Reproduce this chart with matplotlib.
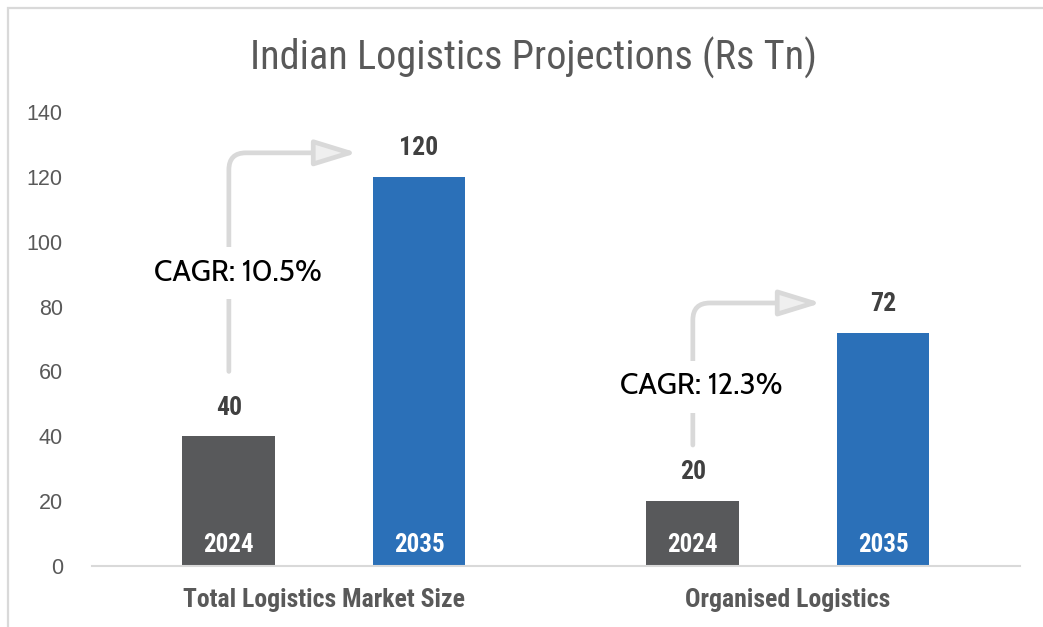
import matplotlib.pyplot as plt
from matplotlib.patches import FancyArrowPatch, Rectangle
import numpy as np

# chart data
categories = ["Total Logistics Market Size", "Organised Logistics"]
years = ["2024", "2035"]
values_2024 = [40, 20]
values_2035 = [120, 72]
cagr_labels = ["CAGR: 10.5%", "CAGR: 12.3%"]
y_ticks = [0, 20, 40, 60, 80, 100, 120, 140]

GREY = "#58595B"
BLUE = "#2B70B8"
TEXT = "#595959"
LIGHT = "#D9D9D9"
NARROW = ["Roboto Condensed", "DejaVu Sans"]
CAGR_FONT = ["Cabin", "DejaVu Sans"]

fig = plt.figure(figsize=(10.43, 6.27), dpi=100)
ax = fig.add_axes([0.0882, 0.0973, 0.8897, 0.7241])

x = np.arange(len(categories))
off, width = 0.205, 0.2
series = [(values_2024, GREY, -off, years[0]), (values_2035, BLUE, off, years[1])]
for vals, color, dx, yr in series:
    bars = ax.bar(x + dx, vals, width=width, color=color, zorder=2)
    for b, v in zip(bars, vals):
        cx = b.get_x() + b.get_width() / 2
        ax.annotate(str(v), (cx, v), xytext=(0, 12), textcoords="offset points",
                    ha="center", va="bottom", fontsize=18.5, fontweight="bold",
                    color="#404040", family=NARROW)
        ax.annotate(yr, (cx, 0), xytext=(0, 15), textcoords="offset points",
                    ha="center", va="center", fontsize=18, fontweight="bold",
                    color="white", family=NARROW, zorder=3)

# CAGR elbow arrows from the 2024 bar up and across towards the 2035 bar
arrow_geo = [(60, 127.4, 90.3), (37.3, 81.1, 55.2)]
for i, (y0, y1, yt) in enumerate(arrow_geo):
    x0 = x[i] - off
    x1 = x[i] + 0.072
    arr = FancyArrowPatch((x0, y0), (x1, y1),
                          connectionstyle="angle,angleA=90,angleB=180,rad=17",
                          arrowstyle="-|>,head_length=26,head_width=8",
                          mutation_scale=1, lw=3.4, edgecolor=LIGHT,
                          facecolor="#EFEFEF", zorder=1, shrinkA=0, shrinkB=0)
    ax.add_patch(arr)
    ax.text(x0 + 0.019, yt, cagr_labels[i], ha="center", va="center",
            fontsize=21.5, fontweight="medium", color="black",
            family=CAGR_FONT, zorder=4,
            bbox=dict(boxstyle="square,pad=0.38", fc="white", ec="none"))

ax.set_xlim(-0.5, 1.5)
ax.set_ylim(0, 140)
ax.set_yticks(y_ticks)
ax.set_xticks(x)
ax.set_xticklabels(categories, fontsize=18.5, fontweight="bold", color=TEXT,
                   family=NARROW)
ax.tick_params(axis="y", length=0, labelsize=15.5, labelcolor=TEXT, pad=21)
ax.tick_params(axis="x", length=0, pad=16)
for lab in ax.get_yticklabels():
    lab.set_family(["Liberation Sans", "DejaVu Sans"])
for s in ["top", "right", "left"]:
    ax.spines[s].set_visible(False)
ax.spines["bottom"].set_color(LIGHT)
ax.spines["bottom"].set_linewidth(1.5)

fig.text(534 / 1043, 0.907, "Indian Logistics Projections (Rs Tn)", ha="center",
         va="center", fontsize=29, color=TEXT, family=NARROW)

# chart border (only top/left edges visible in the crop)
fig.patches.append(Rectangle((8 / 1043, -0.1), 1.2, 1.1 - 8 / 627,
                             transform=fig.transFigure, fill=False,
                             edgecolor=LIGHT, lw=1.6))

fig.savefig("out.png", dpi=100)
